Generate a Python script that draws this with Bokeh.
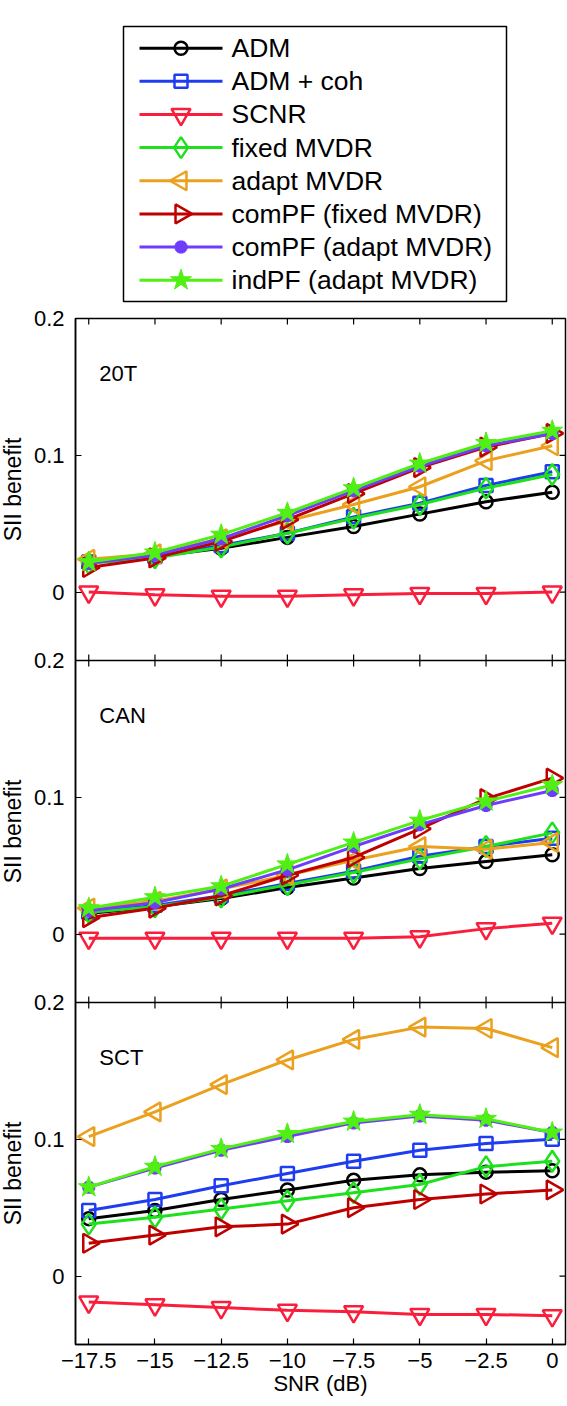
import math
from bokeh.plotting import figure
from bokeh.models import Range1d, LinearAxis, FixedTicker, Span, Label, BoxAnnotation
from bokeh.core.properties import value
from bokeh.layouts import column, row
from bokeh.embed import file_html
from bokeh.resources import INLINE

# ---------------- data ----------------
snr = [-17.5, -15, -12.5, -10, -7.5, -5, -2.5, 0]
x_tick_vals = [-17.5, -15, -12.5, -10, -7.5, -5, -2.5, 0]
x_tick_labels = ["\u221217.5", "\u221215", "\u221212.5", "\u221210", "\u22127.5", "\u22125", "\u22122.5", "0"]
y_tick_vals = [0, 0.1, 0.2]
y_tick_labels = ["0", "0.1", "0.2"]
panel_names = ["20T", "CAN", "SCT"]
series_names = ["ADM", "ADM + coh", "SCNR", "fixed MVDR", "adapt MVDR",
                "comPF (fixed MVDR)", "comPF (adapt MVDR)", "indPF (adapt MVDR)"]

# 20T
t20_adm      = [0.022, 0.026, 0.032, 0.040, 0.048, 0.057, 0.066, 0.073]
t20_admcoh   = [0.022, 0.026, 0.034, 0.043, 0.055, 0.065, 0.078, 0.088]
t20_scnr     = [0.000, -0.002, -0.003, -0.003, -0.002, -0.001, -0.001, 0.000]
t20_fixed    = [0.021, 0.025, 0.033, 0.043, 0.054, 0.064, 0.076, 0.086]
t20_adapt    = [0.024, 0.028, 0.039, 0.052, 0.064, 0.077, 0.096, 0.107]
t20_compf_f  = [0.018, 0.025, 0.037, 0.053, 0.072, 0.091, 0.106, 0.116]
t20_compf_a  = [0.021, 0.027, 0.039, 0.056, 0.074, 0.092, 0.107, 0.116]
t20_indpf    = [0.022, 0.029, 0.042, 0.058, 0.076, 0.094, 0.109, 0.118]

# CAN
can_adm      = [0.015, 0.020, 0.026, 0.034, 0.041, 0.048, 0.053, 0.058]
can_admcoh   = [0.016, 0.021, 0.028, 0.037, 0.046, 0.057, 0.064, 0.070]
can_scnr     = [-0.003, -0.003, -0.003, -0.003, -0.003, -0.002, 0.004, 0.008]
can_fixed    = [0.016, 0.020, 0.027, 0.036, 0.045, 0.055, 0.064, 0.074]
can_adapt    = [0.019, 0.024, 0.033, 0.043, 0.054, 0.064, 0.062, 0.067]
can_compf_f  = [0.012, 0.019, 0.028, 0.043, 0.056, 0.077, 0.099, 0.114]
can_compf_a  = [0.017, 0.023, 0.033, 0.047, 0.064, 0.080, 0.094, 0.105]
can_indpf    = [0.019, 0.027, 0.035, 0.051, 0.067, 0.083, 0.097, 0.109]

# SCT
sct_adm      = [0.042, 0.048, 0.056, 0.063, 0.070, 0.074, 0.076, 0.077]
sct_admcoh   = [0.048, 0.056, 0.066, 0.075, 0.084, 0.092, 0.097, 0.100]
sct_scnr     = [-0.019, -0.021, -0.023, -0.025, -0.026, -0.028, -0.028, -0.029]
sct_fixed    = [0.038, 0.043, 0.049, 0.055, 0.061, 0.067, 0.080, 0.084]
sct_adapt    = [0.102, 0.120, 0.140, 0.158, 0.173, 0.182, 0.181, 0.167]
sct_compf_f  = [0.024, 0.030, 0.036, 0.038, 0.050, 0.056, 0.060, 0.063]
sct_compf_a  = [0.065, 0.079, 0.092, 0.102, 0.112, 0.117, 0.114, 0.105]
sct_indpf    = [0.065, 0.080, 0.093, 0.104, 0.113, 0.118, 0.115, 0.105]

panel_data = [
    [t20_adm, t20_admcoh, t20_scnr, t20_fixed, t20_adapt, t20_compf_f, t20_compf_a, t20_indpf],
    [can_adm, can_admcoh, can_scnr, can_fixed, can_adapt, can_compf_f, can_compf_a, can_indpf],
    [sct_adm, sct_admcoh, sct_scnr, sct_fixed, sct_adapt, sct_compf_f, sct_compf_a, sct_indpf],
]

# ---------------- styles ----------------
colors = ["#000000", "#1e3cf0", "#fa1e3c", "#1ee01e", "#eba01e", "#be0000", "#6e3cfa", "#50f014"]
markers = ["circle", "square", "inverted_triangle", "diamond", "triangle", "triangle", "asterisk", "star"]
msizes = [13, 13, 19, 21, 19, 19, 13, 22]
mangles = [0, 0, 0, 0, math.pi / 2, -math.pi / 2, 0, 0]
mfill = [False, False, False, False, False, False, False, True]
mlw = [2.5, 2.5, 2.5, 2.5, 2.5, 2.5, 4.5, 1]

FONT = "Liberation Sans"
TXT = "black"
Y_LO, Y_HI = -0.05, 0.2
SPAN = Y_HI - Y_LO
NP = len(panel_names)
X_LO, X_HI = -18, 0.5

W_TOTAL = 567
W_LAB = 26
W_MAIN = W_TOTAL - W_LAB
ML, MR = 49, 2
MT, MB = 14, 60
FRAME_H = 1026
H_MAIN = MT + FRAME_H + MB
H_LEG = 304

def add_panel_ranges(fig):
    for i in range(NP):
        k = NP - 1 - i
        lo = Y_LO - k * SPAN
        fig.extra_y_ranges[f"p{i}"] = Range1d(lo, lo + NP * SPAN)

def bare(fig):
    fig.background_fill_color = "white"
    fig.border_fill_color = "white"
    for g in fig.grid:
        g.visible = False

def draw_marker(fig, j, x, y, **kw):
    return fig.scatter(x, y, marker=markers[j], size=msizes[j], angle=mangles[j],
                       line_color=colors[j], line_width=mlw[j],
                       fill_color=colors[j] if mfill[j] else None, **kw)

# ---------------- main three-panel figure ----------------
p = figure(width=W_MAIN, height=H_MAIN, x_range=Range1d(X_LO, X_HI),
           y_range=Range1d(Y_LO, Y_LO + NP * SPAN),
           output_backend="svg", toolbar_location=None,
           x_axis_location=None, y_axis_location=None,
           min_border_left=ML, min_border_right=MR, min_border_top=MT, min_border_bottom=MB)
p.outline_line_color = "black"
p.outline_line_width = 1.5
bare(p)
add_panel_ranges(p)

base_ticks = []
base_overrides = {}
for i in range(NP):
    k = NP - 1 - i
    for t, lab_txt in zip(y_tick_vals, y_tick_labels):
        tv = round(t + k * SPAN, 6)
        base_ticks.append(tv)
        base_overrides[tv] = lab_txt

def style_axis(ax):
    ax.axis_line_color = "black"
    ax.axis_line_width = 1.5
    ax.major_tick_line_color = "black"
    ax.major_tick_line_width = 1.2
    ax.major_tick_in = 6
    ax.major_tick_out = 0
    ax.minor_tick_line_color = None
    ax.major_label_text_font = FONT
    ax.major_label_text_font_size = "22px"
    ax.major_label_text_color = TXT

xb = LinearAxis(ticker=FixedTicker(ticks=x_tick_vals),
                major_label_overrides=dict(zip(x_tick_vals, x_tick_labels)),
                axis_label="SNR (dB)")
style_axis(xb)
xb.major_label_standoff = 8
xb.axis_label_text_font = FONT
xb.axis_label_text_font_size = "22px"
xb.axis_label_text_font_style = "normal"
xb.axis_label_text_color = TXT
xb.axis_label_standoff = 0
p.add_layout(xb, "below")

yl = LinearAxis(ticker=FixedTicker(ticks=base_ticks), major_label_overrides=base_overrides)
style_axis(yl)
yl.major_label_standoff = 11
p.add_layout(yl, "left")

# inward ticks on the top edge, at the panel boundaries and on the right edge
TICK = 12
for k in range(1, NP + 1):
    yb = Y_LO + k * SPAN
    if k < NP:
        p.add_layout(Span(location=yb, dimension="width", line_color="black", line_width=1.5))
    p.scatter(x=x_tick_vals, y=[yb] * len(x_tick_vals), marker="dash", angle=math.pi / 2,
              size=TICK, line_color="black", line_width=1.2)
p.scatter(x=[X_HI] * len(base_ticks), y=base_ticks, marker="dash",
          size=TICK, line_color="black", line_width=1.2)

for i, (pname, series) in enumerate(zip(panel_names, panel_data)):
    rn = f"p{i}"
    for j, vals in enumerate(series):
        p.line(snr, vals, line_color=colors[j], line_width=3, y_range_name=rn)
        draw_marker(p, j, snr, vals, y_range_name=rn)
    p.add_layout(Label(x=-17.1, y=0.16, y_range_name=rn, text=pname, text_font=FONT,
                       text_font_size="22px", text_color=TXT,
                       text_align="left", text_baseline="middle"))

# ---------------- y-label strip ----------------
lab = figure(width=W_LAB, height=H_MAIN, x_range=Range1d(0, W_LAB),
             y_range=Range1d(Y_LO, Y_LO + NP * SPAN),
             output_backend="svg", toolbar_location=None,
             x_axis_location=None, y_axis_location=None,
             min_border_left=0, min_border_right=0, min_border_top=MT, min_border_bottom=MB)
lab.outline_line_color = None
bare(lab)
add_panel_ranges(lab)
for i in range(NP):
    lab.add_layout(Label(x=12, y=(Y_LO + Y_HI) / 2, y_range_name=f"p{i}",
                         text="SII benefit", text_font=FONT, text_font_size="23px",
                         text_color=TXT, angle=math.pi / 2,
                         text_align="center", text_baseline="middle"))

# ---------------- legend (own figure, pixel coordinates, y downwards) ----------------
LEG_L, LEG_R, LEG_T, LEG_B = 123, 506, 26, 301
ITEM_Y0, ITEM_DY = 47.7, 33.14
LINE_X0, LINE_X1, TEXT_X = 139, 222, 231

lg = figure(width=W_TOTAL, height=H_LEG, x_range=Range1d(0, W_TOTAL), y_range=Range1d(H_LEG, 0),
            output_backend="svg", toolbar_location=None,
            x_axis_location=None, y_axis_location=None,
            min_border_left=0, min_border_right=0, min_border_top=0, min_border_bottom=0)
lg.outline_line_color = None
bare(lg)
lg.add_layout(BoxAnnotation(left=LEG_L, right=LEG_R, top=LEG_T, bottom=LEG_B,
                            fill_color=None, line_color="black", line_width=1.5,
                            line_alpha=1, level="underlay"))
item_y = [ITEM_Y0 + j * ITEM_DY for j in range(len(series_names))]
for j, name in enumerate(series_names):
    lg.segment(x0=[LINE_X0], x1=[LINE_X1], y0=[item_y[j]], y1=[item_y[j]],
               line_color=colors[j], line_width=3)
    draw_marker(lg, j, [(LINE_X0 + LINE_X1) / 2], [item_y[j]])
lg.text(x=[TEXT_X] * len(series_names), y=item_y, text=series_names,
        text_font=value(FONT), text_font_size="26.5px", text_color=TXT,
        text_align="left", text_baseline="middle")

layout = column(lg, row(lab, p))
open("out.html", "w").write(file_html(layout, INLINE))
